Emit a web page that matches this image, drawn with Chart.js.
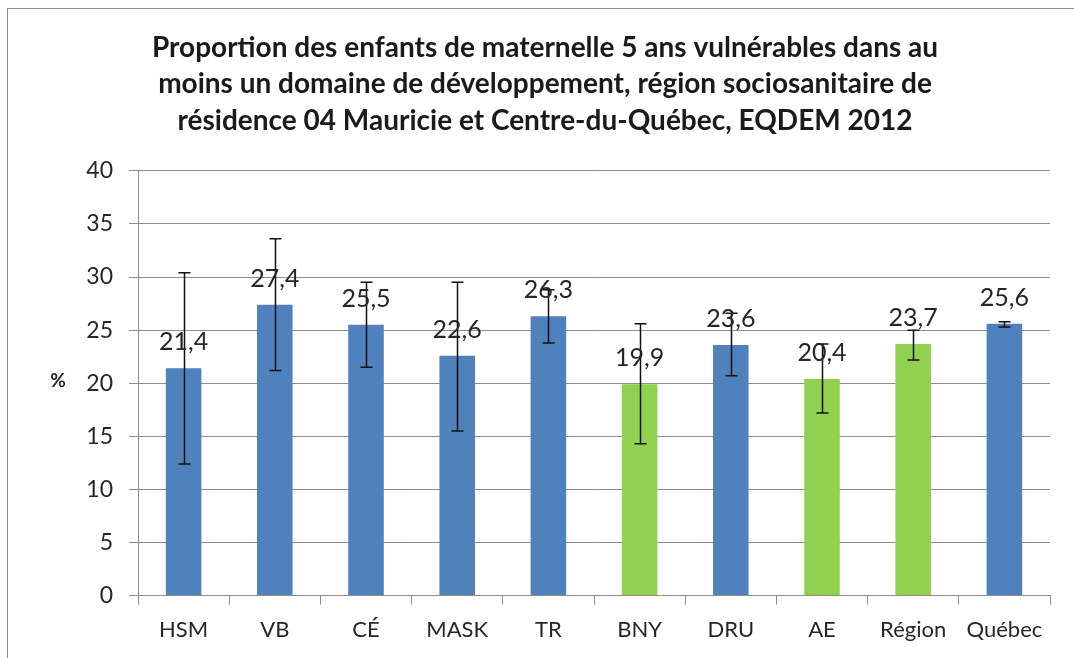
<!DOCTYPE html>
<html>
<head>
<meta charset="utf-8">
<script src="https://cdn.jsdelivr.net/npm/chart.js@4"></script>
<style>
  html, body { margin: 0; padding: 0; background: #fff; overflow: hidden; }
  #wrap { position: relative; width: 1074px; height: 658px; }
  #frame { position: absolute; left: 7px; top: 8px; width: 1100px; height: 700px; border: 1px solid #8c8c8c; box-sizing: border-box; }
  canvas { position: absolute; left: 0; top: 0; }
</style>
</head>
<body>
<div id="wrap">
  <div id="frame"></div>
  <canvas id="chart" width="1074" height="658"></canvas>
</div>
<script>
const categories = ['HSM', 'VB', 'CÉ', 'MASK', 'TR', 'BNY', 'DRU', 'AE', 'Région', 'Québec'];
const values = [21.4, 27.4, 25.5, 22.6, 26.3, 19.9, 23.6, 20.4, 23.7, 25.6];
const errLow = [12.4, 21.2, 21.5, 15.5, 23.8, 14.3, 20.7, 17.2, 22.2, 25.3];
const errHigh = [30.4, 33.6, 29.5, 29.5, 28.8, 25.6, 26.6, 23.7, 25.0, 25.8];
const isRegion = [false, false, false, false, false, true, false, true, true, false];
const yTicks = [0, 5, 10, 15, 20, 25, 30, 35, 40];
const titleLines = [
  'Proportion des enfants de maternelle 5 ans vulnérables dans au',
  'moins un domaine de développement, région sociosanitaire de',
  'résidence 04 Mauricie et Centre-du-Québec, EQDEM 2012'
];

const BLUE = '#4f81bd';
const GREEN = '#92d050';
const FONT = 'Lato, "Open Sans", sans-serif';

const errorBars = {
  id: 'errorBars',
  afterDatasetsDraw(chart) {
    const ctx = chart.ctx;
    const y = chart.scales.y;
    const meta = chart.getDatasetMeta(0);
    ctx.save();
    ctx.strokeStyle = '#111';
    ctx.lineWidth = 1.5;
    meta.data.forEach((bar, i) => {
      const x = Math.round(bar.x) + 0.5;
      const yl = y.getPixelForValue(errLow[i]);
      const yh = y.getPixelForValue(errHigh[i]);
      ctx.beginPath();
      ctx.moveTo(x, yl); ctx.lineTo(x, yh);
      ctx.moveTo(x - 6, yl); ctx.lineTo(x + 6, yl);
      ctx.moveTo(x - 6, yh); ctx.lineTo(x + 6, yh);
      ctx.stroke();
    });
    // value labels
    ctx.fillStyle = '#262626';
    ctx.font = '25px ' + FONT;
    ctx.textAlign = 'center';
    ctx.textBaseline = 'alphabetic';
    meta.data.forEach((bar, i) => {
      ctx.fillText(values[i].toFixed(1).replace('.', ','), bar.x, bar.y - 18);
    });
    // "%" axis title
    ctx.font = 'bold 19px ' + FONT;
    ctx.fillStyle = '#262626';
    ctx.textBaseline = 'middle';
    ctx.fillText('%', 58, 381);
    ctx.restore();
  }
};

new Chart(document.getElementById('chart').getContext('2d'), {
  type: 'bar',
  data: {
    labels: categories,
    datasets: [{
      data: values,
      backgroundColor: isRegion.map(r => r ? GREEN : BLUE),
      barPercentage: 0.39,
      categoryPercentage: 1
    }]
  },
  options: {
    responsive: false,
    animation: false,
    layout: { padding: { left: 40, right: 24, top: 29, bottom: 3 } },
    plugins: {
      legend: { display: false },
      tooltip: { enabled: false },
      title: {
        display: true,
        text: titleLines,
        color: '#1a1a1a',
        font: { family: FONT, size: 28, weight: 'bold', lineHeight: 1.32 },
        padding: { top: 0, bottom: 31 }
      }
    },
    scales: {
      x: {
        grid: { drawOnChartArea: false, color: '#8c8c8c', tickLength: 9, offset: true },
        border: { color: '#8c8c8c' },
        ticks: { color: '#262626', font: { family: FONT, size: 22 }, padding: 12, maxRotation: 0 }
      },
      y: {
        min: 0,
        max: 40,
        afterFit(scale) { scale.width = 98; },
        afterBuildTicks(scale) { scale.ticks = yTicks.map(v => ({ value: v })); },
        grid: { color: '#8c8c8c', tickLength: 9 },
        border: { color: '#8c8c8c' },
        ticks: { color: '#262626', font: { family: FONT, size: 23 }, padding: 16 }
      }
    }
  },
  plugins: [errorBars]
});
</script>
</body>
</html>
